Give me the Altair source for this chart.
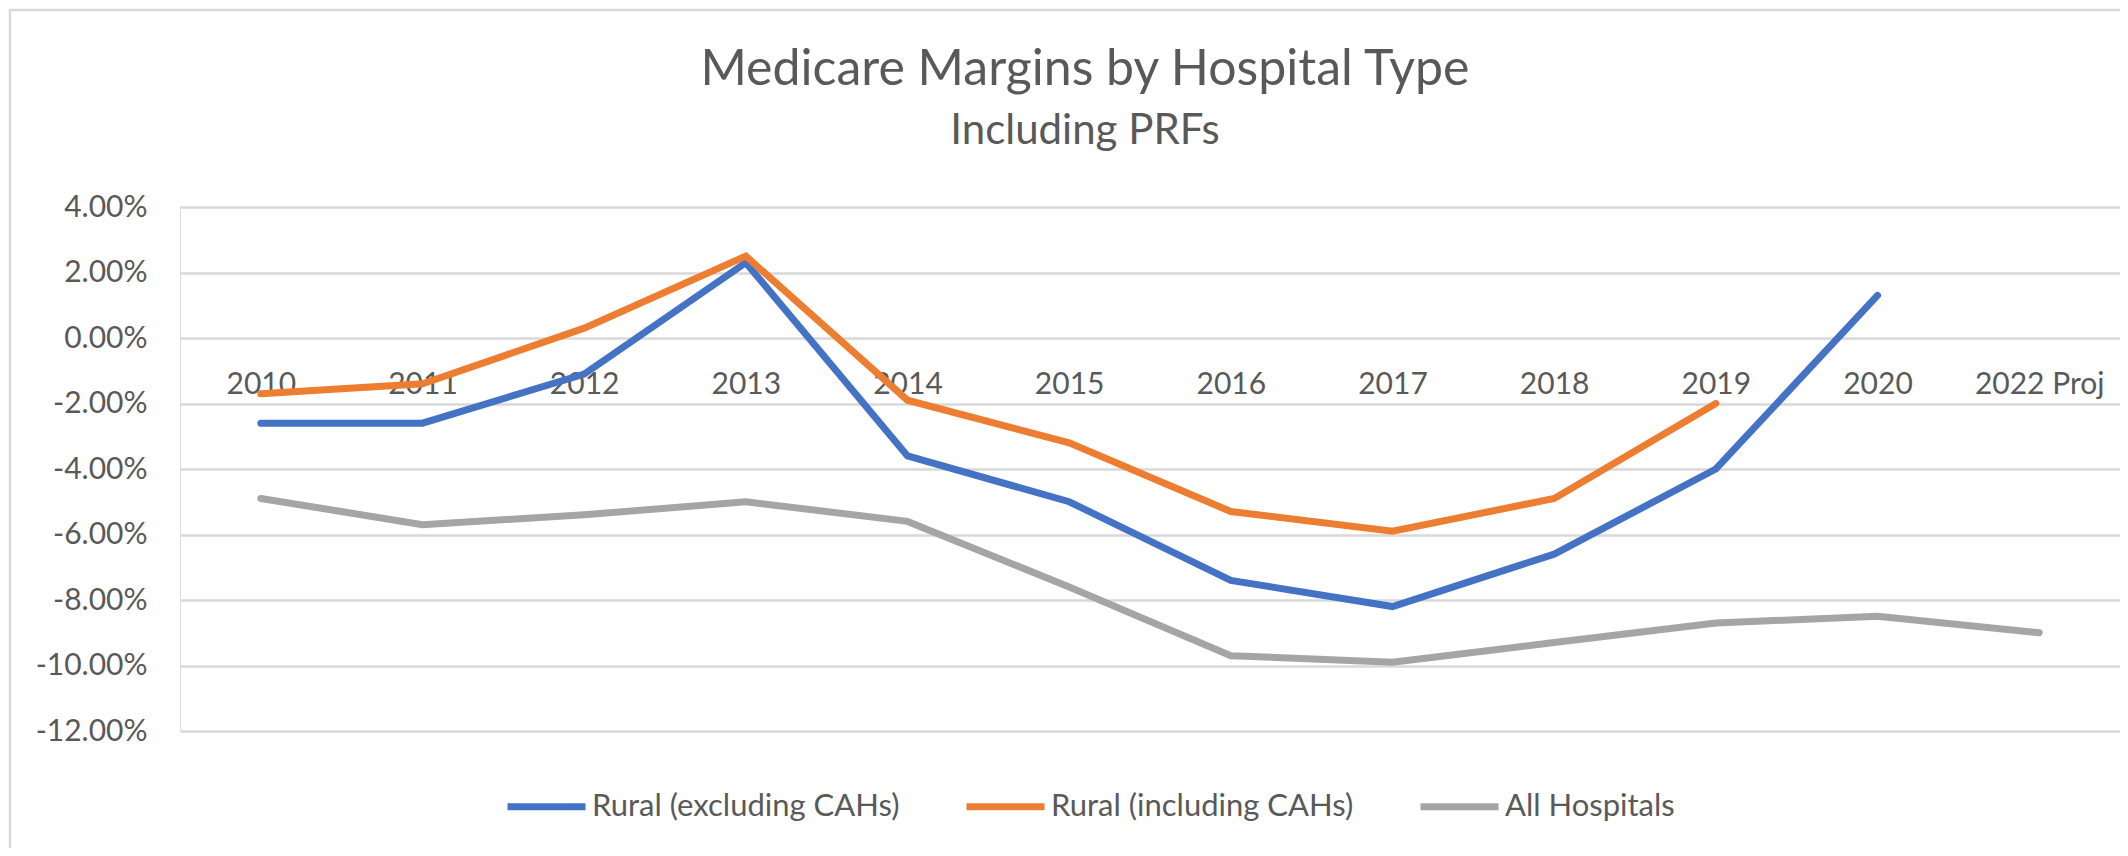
import altair as alt
import pandas as pd

years = ["2010", "2011", "2012", "2013", "2014", "2015", "2016", "2017",
         "2018", "2019", "2020", "2022 Proj"]
series_names = ["Rural (excluding CAHs)", "Rural (including CAHs)", "All Hospitals"]
rural_excl = [-2.6, -2.6, -1.1, 2.3, -3.6, -5.0, -7.4, -8.2, -6.6, -4.0, 1.3, None]
rural_incl = [-1.7, -1.4, 0.3, 2.5, -1.9, -3.2, -5.3, -5.9, -4.9, -2.0, None, None]
all_hosp = [-4.9, -5.7, -5.4, -5.0, -5.6, -7.6, -9.7, -9.9, -9.3, -8.7, -8.5, -9.0]
colors = ["#4472C4", "#ED7D31", "#A5A5A5"]
y_ticks = [-12, -10, -8, -6, -4, -2, 0, 2, 4]

rows = []
for name, vals in zip(series_names, [rural_excl, rural_incl, all_hosp]):
    for yr, v in zip(years, vals):
        if v is not None:
            rows.append({"year": yr, "series": name, "value": v})
df = pd.DataFrame(rows)

FONT = "Lato"
TXT = "#595959"
W, H = 1940, 524

lines = alt.Chart(df).mark_line(strokeWidth=7, strokeCap="round", strokeJoin="miter").encode(
    x=alt.X("year:N", sort=years, scale=alt.Scale(type="point", padding=0.5),
            axis=alt.Axis(title=None, domain=False, ticks=False, grid=False,
                          labelAngle=0, labelFont=FONT, labelFontSize=30,
                          labelColor=TXT, labelPadding=31, offset=-393,
                          labelBaseline="top")),
    y=alt.Y("value:Q", scale=alt.Scale(domain=[-12, 4], nice=False, zero=False),
            axis=alt.Axis(title=None, values=y_ticks, domain=False, ticks=False,
                          grid=True, gridColor="#D9D9D9", gridWidth=2.5,
                          labelFont=FONT, labelFontSize=30, labelColor=TXT,
                          labelPadding=33,
                          labelExpr="(datum.value < 0 ? '-' : '') + format(abs(datum.value), '.2f') + '%'")),
    color=alt.Color("series:N", sort=series_names,
                    scale=alt.Scale(domain=series_names, range=colors),
                    legend=alt.Legend(title=None, orient="none", direction="horizontal",
                                      legendX=324, legendY=557,
                                      symbolType="stroke", symbolSize=6084,
                                      symbolStrokeWidth=7, labelFont=FONT,
                                      labelFontSize=31, labelColor=TXT,
                                      labelOffset=3, columnPadding=52,
                                      labelLimit=0)),
    order=alt.value(0),
)

frame_df = pd.DataFrame({"k": [0]})
left_border = alt.Chart(frame_df).mark_rule(color="#D9D9D9", strokeWidth=2.5).encode(
    x=alt.value(-170), y=alt.value(-198), y2=alt.value(641))
top_border = alt.Chart(frame_df).mark_rule(color="#D9D9D9", strokeWidth=2.5).encode(
    x=alt.value(-171), x2=alt.value(W), y=alt.value(-197))

chart = alt.layer(left_border, top_border, lines).properties(
    width=W, height=H,
    autosize=alt.AutoSizeParams(type="none"),
    padding={"left": 172, "top": 199, "right": 0, "bottom": 117},
    title=alt.TitleParams(
        text="Medicare Margins by Hospital Type",
        subtitle="Including PRFs",
        anchor="middle", dx=-65, dy=184, offset=40,
        font=FONT, fontSize=50, fontWeight="normal", color=TXT,
        subtitleFont=FONT, subtitleFontSize=42, subtitleColor=TXT,
        subtitlePadding=16,
    ),
).configure_view(strokeWidth=0).configure(background="white")

chart.save("out.html", embed_options={"renderer": "svg", "actions": False})
